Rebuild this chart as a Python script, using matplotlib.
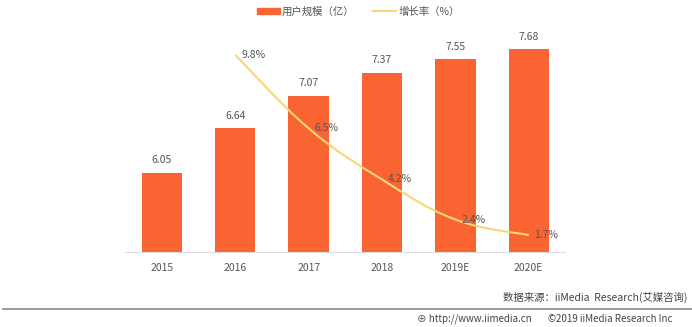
import matplotlib.pyplot as plt
import numpy as np
from matplotlib.path import Path
from matplotlib.patches import PathPatch, Patch
from matplotlib.lines import Line2D

plt.rcParams['font.family'] = ['Noto Sans CJK SC', 'DejaVu Sans']

years = ['2015', '2016', '2017', '2018', '2019E', '2020E']
users = [6.05, 6.64, 7.07, 7.37, 7.55, 7.68]
growth_years = ['2016', '2017', '2018', '2019E', '2020E']
growth = [9.8, 6.5, 4.2, 2.4, 1.7]

bar_color = '#FA6432'
line_color = '#F7D774'
text_color = '#555555'

fig = plt.figure(figsize=(6.92, 3.27), dpi=100)
ax = fig.add_axes([0.181, 0.229, 0.636, 0.68])
x = np.arange(len(years))
ax.bar(x, users, width=0.55, color=bar_color, zorder=2)
for xi, v in zip(x, users):
    ax.text(xi, v + 0.1, f'{v:.2f}', ha='center', va='bottom', fontsize=7.5,
            color=text_color)
ax.set_ylim(5, 7.94)
ax.set_xlim(-0.5, 5.5)
ax.set_xticks(x)
ax.set_xticklabels(years, fontsize=7.5, color=text_color)
ax.tick_params(axis='x', length=0, pad=8)
ax.set_yticks([])
for s in ['top', 'right', 'left']:
    ax.spines[s].set_visible(False)
ax.spines['bottom'].set_color('#DDDDDD')

ax2 = ax.twinx()
ax2.set_ylim(0.934, 10.93)
ax2.axis('off')
gx = np.array([years.index(y) for y in growth_years], dtype=float)
gy = np.array(growth)
# smooth curve through the points with cubic bezier segments
verts = [(gx[0], gy[0])]
codes = [Path.MOVETO]
n = len(gx)
for i in range(n - 1):
    p0 = (gx[max(i - 1, 0)], gy[max(i - 1, 0)])
    p1 = (gx[i], gy[i])
    p2 = (gx[i + 1], gy[i + 1])
    p3 = (gx[min(i + 2, n - 1)], gy[min(i + 2, n - 1)])
    t = 0.2
    c1 = (p1[0] + (p2[0] - p0[0]) * t, p1[1] + (p2[1] - p0[1]) * t)
    c2 = (p2[0] - (p3[0] - p1[0]) * t, p2[1] - (p3[1] - p1[1]) * t)
    verts += [c1, c2, p2]
    codes += [Path.CURVE4] * 3
ax2.add_patch(PathPatch(Path(verts, codes), fill=False, edgecolor=line_color,
                        lw=1.5, zorder=3))
for xi, v in zip(gx, gy):
    ax2.text(xi + 0.08, v, f'{v}%', ha='left', va='center', fontsize=7.5,
             color=text_color, zorder=4)

handles = [Patch(color=bar_color), Line2D([], [], color=line_color, lw=1.5)]
fig.legend(handles, ['用户规模（亿）', '增长率（%）'], loc='center',
           bbox_to_anchor=(0.518, 0.965), ncol=2, frameon=False, fontsize=7.5,
           handlelength=2.2, handleheight=0.6, handletextpad=0.2,
           columnspacing=1.8, labelcolor=text_color)

fig.add_artist(Line2D([0.005, 1.0], [0.055, 0.055], color='#888888', lw=1.2))
fig.text(0.994, 0.09, '数据来源：iiMedia  Research(艾媒咨询)', ha='right',
         va='center', fontsize=7.5, color='#444444')
fig.text(0.603, 0.025, '⊕ http://www.iimedia.cn', ha='left', va='center',
         fontsize=7, color='#444444')
fig.text(0.792, 0.025, '©2019 iiMedia Research Inc', ha='left', va='center',
         fontsize=7, color='#444444')

fig.savefig('out.png', dpi=100, facecolor='white')
